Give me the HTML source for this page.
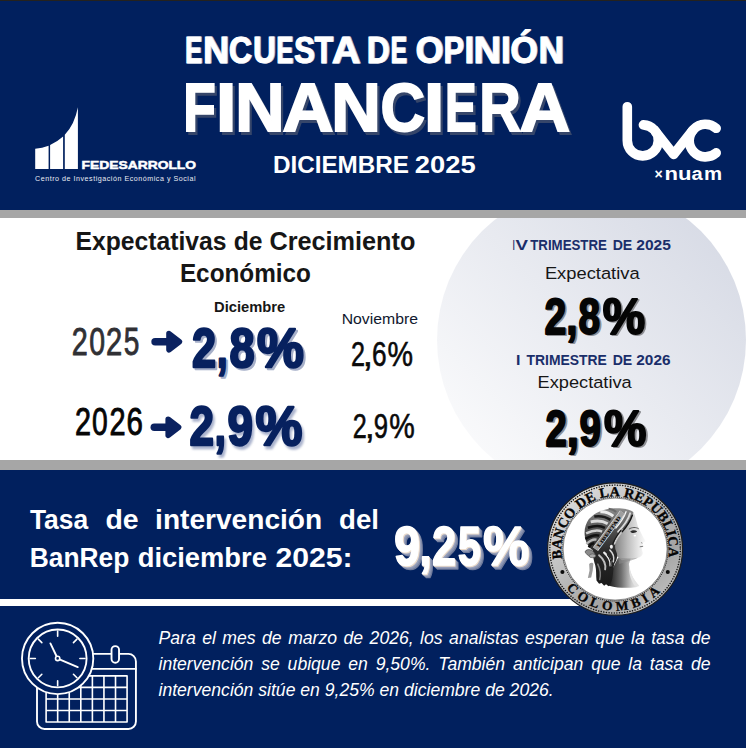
<!DOCTYPE html>
<html lang="es">
<head>
<meta charset="utf-8">
<title>Encuesta de Opinión Financiera - Diciembre 2025</title>
<style>
  html,body{margin:0;padding:0;background:#fff;}
  #page{position:relative;width:746px;height:748px;overflow:hidden;background:#fff;
        font-family:"Liberation Sans",sans-serif;}
  .band{position:absolute;left:0;width:746px;}
  #top{top:0;height:210px;background:#01205e;}
  #g1{top:210px;height:8px;background:#a6a6a6;}
  #mid{top:218px;height:242px;background:#fff;}
  #g2{top:460px;height:10px;background:#a6a6a6;}
  #bot{top:470px;height:278px;background:#01205e;}
  #edge{position:absolute;left:0;top:0;width:746px;height:1px;background:#25221d;}
  #rule{position:absolute;left:0;top:599px;width:600px;height:7px;background:#fff;}
  #circle{position:absolute;left:437.4px;top:185.9px;width:308.6px;height:308.6px;border-radius:50%;
          background:linear-gradient(45deg,#ffffff 0%,#d2d6e2 100%);}
  svg{position:absolute;left:0;top:0;}
  svg text{font-family:"Liberation Sans",sans-serif;}
  svg .serif text, svg text.serif{font-family:"Liberation Serif",serif;}
  #para{position:absolute;left:158.5px;top:626.4px;width:552px;color:#fff;font-style:italic;
        font-size:17.6px;line-height:25.8px;text-align:justify;}
  #para span{display:block;text-align:justify;text-align-last:justify;white-space:nowrap;}
  #para span.last{text-align-last:left;}
</style>
</head>
<body>
<div id="page">
  <div class="band" id="mid"></div>
  <div id="circle"></div>
  <div class="band" id="top"></div>
  <div class="band" id="g1"></div>
  <div class="band" id="g2"></div>
  <div class="band" id="bot"></div>
  <div id="rule"></div>
  <div id="edge"></div>

  <svg id="art" width="746" height="748" viewBox="0 0 746 748">
    <defs>
      <text id="t-enc" y="62.5" font-size="36.2" font-weight="bold" stroke-width="1.0"><tspan x="185.0" textLength="16.9" lengthAdjust="spacingAndGlyphs">E</tspan><tspan x="203.0" textLength="25.9" lengthAdjust="spacingAndGlyphs">N</tspan><tspan x="228.7" textLength="23.0" lengthAdjust="spacingAndGlyphs">C</tspan><tspan x="253.1" textLength="22.6" lengthAdjust="spacingAndGlyphs">U</tspan><tspan x="276.3" textLength="16.8" lengthAdjust="spacingAndGlyphs">E</tspan><tspan x="293.9" textLength="20.8" lengthAdjust="spacingAndGlyphs">S</tspan><tspan x="314.4" textLength="18.5" lengthAdjust="spacingAndGlyphs">T</tspan><tspan x="331.8" textLength="27.0" lengthAdjust="spacingAndGlyphs">A</tspan> <tspan x="366.8" textLength="22.8" lengthAdjust="spacingAndGlyphs">D</tspan><tspan x="390.4" textLength="16.4" lengthAdjust="spacingAndGlyphs">E</tspan> <tspan x="415.5" textLength="27.7" lengthAdjust="spacingAndGlyphs">O</tspan><tspan x="443.4" textLength="20.3" lengthAdjust="spacingAndGlyphs">P</tspan><tspan x="464.6" textLength="9.3" lengthAdjust="spacingAndGlyphs">I</tspan><tspan x="473.6" textLength="27.3" lengthAdjust="spacingAndGlyphs">N</tspan><tspan x="500.9" textLength="9.5" lengthAdjust="spacingAndGlyphs">I</tspan><tspan x="510.2" textLength="27.5" lengthAdjust="spacingAndGlyphs">Ó</tspan><tspan x="538.5" textLength="25.2" lengthAdjust="spacingAndGlyphs">N</tspan></text>
      <g id="t-fin" font-size="68.3" font-weight="bold" stroke-width="2.0"><text y="131.3"><tspan x="183.3" textLength="32.5" lengthAdjust="spacingAndGlyphs">F</tspan><tspan x="216.0" textLength="20.4" lengthAdjust="spacingAndGlyphs">I</tspan><tspan x="235.2" textLength="49.3" lengthAdjust="spacingAndGlyphs">N</tspan><tspan x="282.4" textLength="50.9" lengthAdjust="spacingAndGlyphs">A</tspan><tspan x="331.2" textLength="49.6" lengthAdjust="spacingAndGlyphs">N</tspan><tspan x="380.5" textLength="44.5" lengthAdjust="spacingAndGlyphs">C</tspan><tspan x="424.0" textLength="20.3" lengthAdjust="spacingAndGlyphs">I</tspan><tspan x="445.1" textLength="31.6" lengthAdjust="spacingAndGlyphs">E</tspan><tspan x="479.2" textLength="41.5" lengthAdjust="spacingAndGlyphs">R</tspan><tspan x="519.5" textLength="50.6" lengthAdjust="spacingAndGlyphs">A</tspan></text> </g>
      <g id="t-28" font-size="55.4" font-weight="bold" stroke-width="2.4" stroke-linejoin="round"><text y="366.5"><tspan x="191.9" textLength="24.1" lengthAdjust="spacingAndGlyphs">2</tspan><tspan x="216.7" textLength="10.9" lengthAdjust="spacingAndGlyphs">,</tspan><tspan x="229.6" textLength="25.2" lengthAdjust="spacingAndGlyphs">8</tspan><tspan x="257.1" textLength="46.9" lengthAdjust="spacingAndGlyphs">%</tspan></text> </g>
      <g id="t-29" font-size="55.9" font-weight="bold" stroke-width="2.4" stroke-linejoin="round"><text y="444.8"><tspan x="189.6" textLength="24.5" lengthAdjust="spacingAndGlyphs">2</tspan><tspan x="214.6" textLength="11.5" lengthAdjust="spacingAndGlyphs">,</tspan><tspan x="227.6" textLength="25.5" lengthAdjust="spacingAndGlyphs">9</tspan><tspan x="255.5" textLength="46.9" lengthAdjust="spacingAndGlyphs">%</tspan></text> </g>
      <filter id="soft" x="-10%" y="-10%" width="125%" height="130%"><feGaussianBlur stdDeviation="0.9"/></filter>
      <g id="t-28b" font-size="50.1" font-weight="bold" stroke-width="2.0" stroke-linejoin="round"><text y="333.9"><tspan x="544.4" textLength="21.8" lengthAdjust="spacingAndGlyphs">2</tspan><tspan x="566.3" textLength="11.3" lengthAdjust="spacingAndGlyphs">,</tspan><tspan x="578.6" textLength="21.6" lengthAdjust="spacingAndGlyphs">8</tspan><tspan x="602.7" textLength="42.4" lengthAdjust="spacingAndGlyphs">%</tspan></text> </g>
      <g id="t-29b" font-size="50.1" font-weight="bold" stroke-width="2.0" stroke-linejoin="round"><text y="445.9"><tspan x="545.6" textLength="21.3" lengthAdjust="spacingAndGlyphs">2</tspan><tspan x="566.7" textLength="12.2" lengthAdjust="spacingAndGlyphs">,</tspan><tspan x="579.6" textLength="21.5" lengthAdjust="spacingAndGlyphs">9</tspan><tspan x="604.1" textLength="42.4" lengthAdjust="spacingAndGlyphs">%</tspan></text> </g>
      <g id="t-925" font-size="56.0" font-weight="bold" stroke-width="1.4" stroke-linejoin="round"><text y="565.4"><tspan x="394.1" textLength="26.1" lengthAdjust="spacingAndGlyphs">9</tspan><tspan x="419.2" textLength="12.4" lengthAdjust="spacingAndGlyphs">,</tspan><tspan x="432.0" textLength="24.0" lengthAdjust="spacingAndGlyphs">2</tspan><tspan x="457.7" textLength="23.1" lengthAdjust="spacingAndGlyphs">5</tspan><tspan x="483.0" textLength="46.3" lengthAdjust="spacingAndGlyphs">%</tspan></text> </g>
    </defs>
    <g fill="#fff" stroke="#fff">
  <use href="#t-enc" x="0.9" y="0.9" fill="#aeb7cf" stroke="#aeb7cf"/><use href="#t-enc"/>
  <use href="#t-fin" x="2.3" y="2.3" fill="#36466a" stroke="#36466a"/><use href="#t-fin"/>
</g>
    <g fill="#fff" font-weight="bold" font-size="24.7"><text x="272.9" y="173.0" textLength="136.1" lengthAdjust="spacingAndGlyphs">DICIEMBRE</text> <text x="414.8" y="173.0" textLength="60.9" lengthAdjust="spacingAndGlyphs">2025</text> </g>
    <g fill="#fff">
  <path d="M35.2,169.1 V148.8 Q42.2,148 48.6,145.7 V169.1 Z"/>
  <path d="M50.1,169.1 V144.9 Q57.1,141.8 63.1,136.4 V169.1 Z"/>
  <path d="M64.8,169.1 V134.7 Q74.6,124.5 77.9,107.2 V169.1 Z"/>
  <g font-size="11.6" font-weight="bold" stroke="#fff" stroke-width="0.5"><text x="81.5" y="168.6" textLength="114.6" lengthAdjust="spacingAndGlyphs">FEDESARROLLO</text> </g>
  <text x="35" y="180.5" font-size="7.1" fill="#e9ecf3" textLength="160.5" lengthAdjust="spacing">Centro de Investigación Económica y Social</text>
</g>
    <g fill="none" stroke="#fff" stroke-width="9.6" stroke-linecap="round" stroke-linejoin="round">
  <path d="M627.3,106.7 V140.4 A15.5,15.5 0 1 0 643.4,124.9"/>
  <path d="M654.9,130.6 L673.6,154.4 L692.6,130.6"/>
  <path d="M716.2,128.3 A16.3,16.3 0 1 0 716.2,152.9"/>
</g>
<g fill="#fff" font-weight="bold">
  <text y="179.2" font-size="14"><tspan x="654.4" textLength="8.2" lengthAdjust="spacingAndGlyphs">×</tspan></text> 
  <g font-size="18.7"><text y="179.7"><tspan x="664.5" textLength="13.5" lengthAdjust="spacingAndGlyphs">n</tspan><tspan x="677.9" textLength="13.5" lengthAdjust="spacingAndGlyphs">u</tspan><tspan x="691.4" textLength="11.2" lengthAdjust="spacingAndGlyphs">a</tspan><tspan x="704.1" textLength="18.1" lengthAdjust="spacingAndGlyphs">m</tspan></text> </g>
</g>
    <g fill="#161616" font-weight="bold" font-size="25.6"><text x="75.5" y="250.3" textLength="151.0" lengthAdjust="spacingAndGlyphs">Expectativas</text> <text x="233.7" y="250.3" textLength="28.8" lengthAdjust="spacingAndGlyphs">de</text> <text x="269.4" y="250.3" textLength="146.0" lengthAdjust="spacingAndGlyphs">Crecimiento</text> <text x="179.9" y="281.7" textLength="131.1" lengthAdjust="spacingAndGlyphs">Económico</text> </g>
    <g fill="#161616" font-weight="bold" font-size="14.7"><text x="214.1" y="311.6" textLength="71.2" lengthAdjust="spacingAndGlyphs">Diciembre</text> </g>
    <g fill="#10182e" font-size="15.4"><text x="341.7" y="323.6" textLength="76.3" lengthAdjust="spacingAndGlyphs">Noviembre</text> </g>
    <g fill="#303034" stroke="#303034" stroke-width="0.9" font-size="39.1"><text y="354.9"><tspan x="71.7" textLength="16.0" lengthAdjust="spacingAndGlyphs">2</tspan><tspan x="89.2" textLength="15.8" lengthAdjust="spacingAndGlyphs">0</tspan><tspan x="106.1" textLength="16.2" lengthAdjust="spacingAndGlyphs">2</tspan><tspan x="123.8" textLength="15.6" lengthAdjust="spacingAndGlyphs">5</tspan></text> </g>
    <g fill="#060606" stroke="#060606" stroke-width="0.9" font-size="38.0"><text y="435.2"><tspan x="74.9" textLength="16.0" lengthAdjust="spacingAndGlyphs">2</tspan><tspan x="92.0" textLength="15.7" lengthAdjust="spacingAndGlyphs">0</tspan><tspan x="109.4" textLength="16.1" lengthAdjust="spacingAndGlyphs">2</tspan><tspan x="126.4" textLength="16.4" lengthAdjust="spacingAndGlyphs">6</tspan></text> </g>
    <g id="arrow" fill="#0b2260" stroke="#0b2260" stroke-linejoin="round" stroke-linecap="round">
  <path d="M155.1,341.7 H169" stroke-width="7.5" fill="none"/>
  <path d="M169,333.6 L179.4,341.7 L169,349.8 Z" stroke-width="5.6"/>
</g>
<use href="#arrow" x="-0.8" y="85.6"/>
    <g>
  <use href="#t-28" x="2" y="2.2" fill="#a7b0c9" stroke="#a7b0c9"/><use href="#t-28" fill="#07215f" stroke="#07215f"/>
  <use href="#t-29" x="2" y="2.8" fill="#aab3cd" stroke="#aab3cd" filter="url(#soft)"/><use href="#t-29" fill="#07215f" stroke="#07215f"/>
</g>
    <g fill="#0a0a0a" stroke="#0a0a0a" stroke-width="0.6" font-size="34.7"><text y="366.2"><tspan x="350.9" textLength="14.0" lengthAdjust="spacingAndGlyphs">2</tspan><tspan x="362.8" textLength="10.2" lengthAdjust="spacingAndGlyphs">,</tspan><tspan x="372.0" textLength="14.6" lengthAdjust="spacingAndGlyphs">6</tspan><tspan x="387.4" textLength="25.5" lengthAdjust="spacingAndGlyphs">%</tspan></text> <text y="438.4"><tspan x="352.7" textLength="14.0" lengthAdjust="spacingAndGlyphs">2</tspan><tspan x="365.0" textLength="9.6" lengthAdjust="spacingAndGlyphs">,</tspan><tspan x="373.7" textLength="14.3" lengthAdjust="spacingAndGlyphs">9</tspan><tspan x="389.2" textLength="25.5" lengthAdjust="spacingAndGlyphs">%</tspan></text> </g>
    <g fill="#1a2e6a" font-weight="bold" font-size="14.8"><text y="250.0"><tspan x="512.8" textLength="1.9" lengthAdjust="spacingAndGlyphs">I</tspan><tspan x="515.4" textLength="12.5" lengthAdjust="spacingAndGlyphs">V</tspan></text> <text x="530.2" y="250.0" textLength="76.7" lengthAdjust="spacingAndGlyphs">TRIMESTRE</text> <text x="612.7" y="250.0" textLength="19.6" lengthAdjust="spacingAndGlyphs">DE</text> <text x="636.3" y="250.0" textLength="34.6" lengthAdjust="spacingAndGlyphs">2025</text> <text x="516.1" y="364.7" textLength="4.4" lengthAdjust="spacingAndGlyphs">I</text> <text x="526.6" y="364.7" textLength="80.2" lengthAdjust="spacingAndGlyphs">TRIMESTRE</text> <text x="612.7" y="364.7" textLength="19.6" lengthAdjust="spacingAndGlyphs">DE</text> <text x="636.3" y="364.7" textLength="34.2" lengthAdjust="spacingAndGlyphs">2026</text> </g>
    <g fill="#161616" font-size="17.4"><text x="544.9" y="278.5" textLength="94.7" lengthAdjust="spacingAndGlyphs">Expectativa</text> <text x="537.5" y="387.6" textLength="94.2" lengthAdjust="spacingAndGlyphs">Expectativa</text> </g>
    <g>
  <use href="#t-28b" x="1.6" y="1.6" fill="#8e8f94" stroke="#8e8f94"/><use href="#t-28b" fill="#050505" stroke="#050505"/>
  <use href="#t-29b" x="1.6" y="1.6" fill="#8e8f94" stroke="#8e8f94"/><use href="#t-29b" fill="#050505" stroke="#050505"/>
</g>
    <g fill="#fff" font-weight="bold" font-size="27.0"><text x="29.9" y="528.6" textLength="58.2" lengthAdjust="spacingAndGlyphs">Tasa</text> <text x="105.4" y="528.6" textLength="33.2" lengthAdjust="spacingAndGlyphs">de</text> <text x="155.1" y="528.6" textLength="167.1" lengthAdjust="spacingAndGlyphs">intervención</text> <text x="339.1" y="528.6" textLength="39.9" lengthAdjust="spacingAndGlyphs">del</text> <text x="29.7" y="566.8" textLength="99.6" lengthAdjust="spacingAndGlyphs">BanRep</text> <text x="137.7" y="566.8" textLength="129.2" lengthAdjust="spacingAndGlyphs">diciembre</text> <text x="275.4" y="566.8" textLength="77.3" lengthAdjust="spacingAndGlyphs">2025:</text> </g>
    <g>
  <use href="#t-925" x="3.8" y="3.8" fill="#6f7a9b" stroke="#6f7a9b"/>
  <use href="#t-925" x="2.8" y="2.8" fill="#8791ae" stroke="#8791ae"/>
  <use href="#t-925" x="1.8" y="1.8" fill="#9aa2bc" stroke="#9aa2bc"/>
  <use href="#t-925" x="0.8" y="0.8" fill="#ecdccc" stroke="#ecdccc"/>
  <use href="#t-925" fill="#fff" stroke="#fff"/>
</g>
    <!-- ===== Banco de la República seal ===== -->
    <svg x="539.07" y="474.93" width="151.65" height="148.64" viewBox="0 0 746 746" preserveAspectRatio="none">
      <defs>
        <linearGradient id="ringg" x1="0.1" y1="0" x2="0.9" y2="1">
          <stop offset="0" stop-color="#e4e4e4"/><stop offset="0.35" stop-color="#c4c4c4"/><stop offset="0.7" stop-color="#a4a4a4"/><stop offset="1" stop-color="#c9c9c9"/>
        </linearGradient>
        <path id="arcTop" d="M113.4,420.3 A265,265 0 1 1 635.4,415.7"/>
        <path id="arcBot" d="M134.5,567.3 A309,309 0 0 0 599.3,583.5"/>
      </defs>
      <circle cx="374" cy="372" r="332" fill="url(#ringg)" stroke="#1e1e1e" stroke-width="6"/>
      <circle cx="374" cy="372" r="321" fill="none" stroke="#141414" stroke-width="7.5" stroke-linecap="round" stroke-dasharray="0.1 12.91"/>
      <circle cx="374" cy="372" r="261" fill="none" stroke="#1c1c1c" stroke-width="5.5" stroke-linecap="round" stroke-dasharray="0.1 10.15"/>
      <circle cx="374" cy="372" r="256" fill="#fff" stroke="#444" stroke-width="3"/>
      <g class="serif" font-weight="bold" font-size="69" fill="#050505" stroke="#050505" stroke-width="1.8">
        <text><textPath href="#arcTop" textLength="921" lengthAdjust="spacing">BANCO DE LA REPUBLICA</textPath></text>
        <text font-size="66"><textPath href="#arcBot" textLength="522" lengthAdjust="spacing">COLOMBIA</textPath></text>
      </g>
      <circle cx="114.8" cy="486.9" r="10" fill="#0b0b0b"/>
      <circle cx="633.2" cy="486.9" r="10" fill="#0b0b0b"/>
    </svg>
    <!-- Liberty head -->
    <svg x="580" y="504.4" width="70" height="95" viewBox="0 0 551 748">
      <defs>
        <linearGradient id="faceg" x1="0" y1="0" x2="1" y2="0">
          <stop offset="0" stop-color="#7a7a7a"/><stop offset="0.45" stop-color="#bdbdbd"/><stop offset="0.8" stop-color="#e9e9e9"/><stop offset="1" stop-color="#fafafa"/>
        </linearGradient>
        <linearGradient id="neckg" x1="0" y1="0" x2="1" y2="0">
          <stop offset="0" stop-color="#1c1c1c"/><stop offset="0.4" stop-color="#6e6e6e"/><stop offset="0.75" stop-color="#cfcfcf"/><stop offset="1" stop-color="#f2f2f2"/>
        </linearGradient>
        <linearGradient id="hairg" x1="0" y1="0" x2="0" y2="1">
          <stop offset="0" stop-color="#8e8e8e"/><stop offset="0.3" stop-color="#4c4c4c"/><stop offset="0.55" stop-color="#2a2a2a"/><stop offset="1" stop-color="#1a1a1a"/>
        </linearGradient>
      </defs>
      <!-- neck and bust -->
      <path fill="url(#neckg)" d="M228,640 L250,520 L300,420 L400,425 L385,470 C388,530 410,585 468,642 L440,652 C380,660 300,660 228,640 Z"/>
      <path fill="#e4e4e4" d="M388,470 C392,530 414,585 466,640 L430,640 C395,590 380,530 388,470 Z"/>
      <!-- face -->
      <path fill="url(#faceg)" d="M420,60 C435,90 445,130 455,170 L470,200 C480,230 505,270 516,290 L490,306 L497,330 L485,346 L495,384 C490,405 475,415 455,420 C420,428 370,432 330,440 L280,400 L260,330 L300,250 L370,160 Z"/>
      <path fill="#8b8b8b" opacity="0.55" d="M300,420 L400,425 L455,420 C420,440 360,450 310,470 Z"/>
      <!-- hair -->
      <path fill="url(#hairg)" d="M110,80 C170,40 250,25 330,32 C370,35 400,45 420,60 C410,100 390,140 370,165 C340,200 310,240 290,280 C275,310 270,340 285,370 C300,400 290,440 270,470 C262,500 262,540 255,580 C250,610 240,630 225,645 L205,628 L190,640 L170,618 L150,625 L130,600 C125,560 130,520 120,480 C110,450 105,420 100,390 L100,360 C70,340 45,300 38,250 C30,200 45,150 70,115 Z"/>
      <!-- feathered crown: alternating light / dark wedges -->
      <g fill="none" stroke-linecap="butt">
        <path d="M262,92 C235,70 200,55 160,58" stroke="#ededed" stroke-width="24"/>
        <path d="M240,122 C205,98 160,88 112,96" stroke="#1a1a1a" stroke-width="20"/>
        <path d="M218,152 C180,130 135,125 84,138" stroke="#dcdcdc" stroke-width="22"/>
        <path d="M196,184 C160,166 115,166 62,184" stroke="#141414" stroke-width="20"/>
        <path d="M174,214 C140,200 100,204 48,228" stroke="#cfcfcf" stroke-width="20"/>
        <path d="M152,246 C122,236 88,244 42,272" stroke="#101010" stroke-width="20"/>
        <path d="M130,278 C108,272 82,282 50,312" stroke="#b5b5b5" stroke-width="18"/>
        <path d="M112,308 C98,306 82,316 68,338" stroke="#0e0e0e" stroke-width="18"/>
        <path d="M285,60 C270,45 250,36 225,34" stroke="#6a6a6a" stroke-width="16"/>
      </g>
      <g fill="none" stroke-linecap="round">
        <!-- front waves (between ribbon and face) -->
        <path d="M395,70 C380,120 345,170 300,215" stroke="#d9d9d9" stroke-width="15"/>
        <path d="M362,58 C348,100 318,145 282,186" stroke="#f2f2f2" stroke-width="11"/>
        <path d="M340,200 C310,235 285,270 272,310" stroke="#c9c9c9" stroke-width="14"/>
        <path d="M412,85 C397,130 367,175 332,215" stroke="#121212" stroke-width="11"/>
        <path d="M322,205 C295,240 270,275 258,312" stroke="#1a1a1a" stroke-width="9"/>
        <!-- lower curls -->
        <path d="M190,380 C225,410 245,445 240,482" stroke="#ececec" stroke-width="17"/>
        <path d="M150,400 C185,430 205,470 198,512" stroke="#bdbdbd" stroke-width="15"/>
        <path d="M235,360 C262,385 272,415 262,452" stroke="#d6d6d6" stroke-width="12"/>
        <path d="M140,470 C160,510 165,550 155,592" stroke="#7a7a7a" stroke-width="12"/>
        <path d="M215,395 C240,425 250,460 242,495" stroke="#111" stroke-width="8"/>
      </g>
      <!-- ear highlight -->
      <ellipse cx="247" cy="333" rx="12" ry="16" fill="#f0f0f0"/>
      <!-- ribbon with LIBERTAD -->
      <path d="M122,352 L335,62" stroke="#e2e2e2" stroke-width="50" fill="none"/>
      <path d="M122,352 L335,62" stroke="#9e9e9e" stroke-width="40" fill="none"/>
      <text class="serif" transform="translate(152,340) rotate(-53.7)" font-size="38" font-weight="bold" fill="#0a0a0a" stroke="#0a0a0a" stroke-width="1" textLength="290" lengthAdjust="spacingAndGlyphs">LIBERTAD</text>
      <!-- knot and tail -->
      <path d="M40,375 C45,352 80,350 100,368 C118,380 125,400 110,410 C95,420 60,410 40,375 Z" fill="#8a8a8a" stroke="#3a3a3a" stroke-width="5"/>
      <ellipse cx="98" cy="405" rx="26" ry="15" fill="#a8a8a8" stroke="#444" stroke-width="4"/>
      <path d="M72,470 C85,455 100,455 105,470 L100,520 L88,575 L62,580 L75,520 Z" fill="#9a9a9a"/>
      <!-- eye, brow, nostril, lips -->
      <path d="M395,215 C412,200 435,200 450,212 C438,226 410,230 395,215 Z" fill="#2c2c2c"/>
      <path d="M385,195 C410,178 440,178 462,192" stroke="#4a4a4a" stroke-width="7" fill="none"/>
      <ellipse cx="432" cy="245" rx="10" ry="7" fill="#fff"/>
      <path d="M470,334 L497,330" stroke="#5a5a5a" stroke-width="6" fill="none"/>
      <path d="M480,300 L492,306" stroke="#6a6a6a" stroke-width="5" fill="none"/>
    </svg>
    <!-- ===== clock + calendar icon ===== -->
    <svg x="0" y="600" width="200" height="148" viewBox="0 0 746 552" fill="none" stroke="#fff" stroke-width="7" stroke-linecap="round" stroke-linejoin="round">
      <!-- calendar body -->
      <rect x="138" y="201" width="369" height="280" rx="28"/>
      <path d="M138,257 H507"/>
      <!-- grid -->
      <path d="M172,283 H474 V455 H172 Z M172,326 H474 M172,369 H474 M172,412 H474 M215.1,283 V455 M258.3,283 V455 M301.4,283 V455 M344.6,283 V455 M387.7,283 V455 M430.9,283 V455" stroke-width="6"/>
      <!-- ring -->
      <rect x="416" y="172" width="28" height="62" rx="14" fill="#01205e"/>
      <!-- clock -->
      <circle cx="215" cy="218" r="134" fill="#01205e" stroke="none"/>
      <circle cx="215" cy="218" r="133"/>
      <circle cx="215" cy="218" r="108"/>
      <path d="M215,116 V135 M215,301 V320 M113,218 H132 M298,218 H317 M143,146 L156,159 M287,146 L274,159 M143,290 L156,277 M287,290 L274,277" stroke-width="6"/>
      <path d="M210,208 L188,162 M224,222 L290,250"/>
      <circle cx="215" cy="218" r="8" fill="#01205e" stroke-width="6"/>
    </svg>

  </svg>

  <div id="para">
    <span>Para el mes de marzo de 2026, los analistas esperan que la tasa de</span>
    <span>intervención se ubique en 9,50%. También anticipan que la tasa de</span>
    <span class="last">intervención sitúe en 9,25% en diciembre de 2026.</span>
  </div>
</div>
</body>
</html>
